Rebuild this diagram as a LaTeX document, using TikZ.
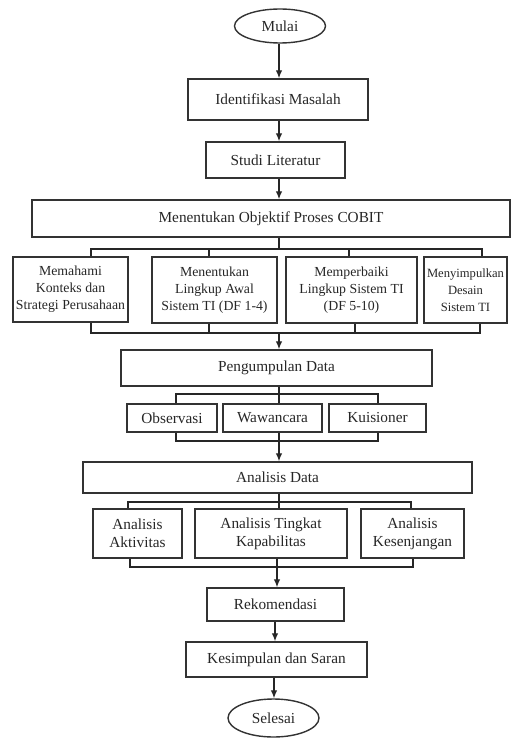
\documentclass[tikz,border=0pt]{standalone}
\usepackage{fontspec}
\setmainfont{Liberation Serif}
\usetikzlibrary{arrows.meta,shapes.geometric}

\begin{document}
\begin{tikzpicture}[x=1pt,y=-1pt,
  box/.style={draw=black!80, line width=1.4pt, rectangle, inner sep=1pt, align=center, text=black!85, font=\fontsize{15.3}{18}\selectfont},
  smallbox/.style={box, font=\fontsize{13.8}{17}\selectfont},
  oval/.style={draw=black!80, line width=1.4pt, ellipse, inner sep=0pt, text=black!85, font=\fontsize{15.3}{18}\selectfont},
  conn/.style={draw=black!85, line width=1.3pt},
  arrow/.style={conn, -{Latex[length=8pt,width=6.5pt]}}]
\useasboundingbox (0,0) rectangle (531,738);

\node[oval, minimum width=91pt, minimum height=34pt] (mulai) at (280,26) {Mulai};
\node[box, minimum width=180pt, minimum height=41pt] (ident) at (278,99.5) {Identifikasi Masalah};
\node[box, minimum width=139pt, minimum height=36pt] (studi) at (275.5,160) {Studi Literatur};
\node[box, minimum width=478pt, minimum height=37pt] (cobit) at (271,218.5) {Menentukan Objektif Proses COBIT};

\node[smallbox, minimum width=115pt, minimum height=65pt] (konteks) at (70.5,289.5) {Memahami\\Konteks dan\\Strategi Perusahaan};
\node[smallbox, minimum width=125pt, minimum height=66pt] (awal) at (214.5,290) {Menentukan\\Lingkup Awal\\Sistem TI (DF 1-4)};
\node[smallbox, minimum width=131pt, minimum height=66pt] (perbaiki) at (351.5,290) {Memperbaiki\\Lingkup Sistem TI\\(DF 5-10)};
\node[smallbox, font=\fontsize{12.6}{17}\selectfont, minimum width=83pt, minimum height=66pt] (desain) at (465.5,290) {Menyimpulkan\\Desain\\Sistem TI};

\node[box, minimum width=311pt, minimum height=36pt] (kumpul) at (276.5,368) {Pengumpulan Data};
\node[box, minimum width=90pt, minimum height=28pt] (obs) at (172,418) {Observasi};
\node[box, minimum width=99pt, minimum height=28pt] (wawan) at (272.5,418) {Wawancara};
\node[box, minimum width=97pt, minimum height=28pt] (kuis) at (377.5,418) {Kuisioner};

\node[box, minimum width=389pt, minimum height=31pt] (analisis) at (277.5,477.5) {Analisis Data};
\node[box, minimum width=89pt, minimum height=49pt] (aktivitas) at (137.5,533.5) {Analisis\\Aktivitas};
\node[box, minimum width=152pt, minimum height=49pt] (kapab) at (271,533.5) {Analisis Tingkat\\Kapabilitas};
\node[box, minimum width=103pt, minimum height=49pt] (gap) at (412.5,533.5) {Analisis\\Kesenjangan};

\node[box, minimum width=137pt, minimum height=33pt] (rekom) at (275.5,604.5) {Rekomendasi};
\node[box, minimum width=181pt, minimum height=35pt] (simpul) at (276.5,659.5) {Kesimpulan dan Saran};
\node[oval, minimum width=91pt, minimum height=38pt] (selesai) at (273.5,718) {Selesai};

\coordinate (busA1) at (91,249);
\coordinate (busA4) at (482,249);
\coordinate (busB1) at (91,333);
\coordinate (busB4) at (480,333);
\coordinate (busC1) at (176,394);
\coordinate (busC3) at (378,394);
\coordinate (busD1) at (176,441);
\coordinate (busD3) at (378,441);
\coordinate (busE1) at (128,502);
\coordinate (busE3) at (411,502);
\coordinate (busF1) at (130,567);
\coordinate (busF3) at (413,567);

\draw[arrow] ([xshift=-1pt]mulai.south) -- ([xshift=-1pt]mulai.south |- ident.north);
\draw[arrow] ([xshift=1pt]ident.south) -- ([xshift=1pt]ident.south |- studi.north);
\draw[arrow] ([xshift=3.5pt]studi.south) -- ([xshift=3.5pt]studi.south |- cobit.north);

\draw[conn] ([xshift=8pt]cobit.south) -- ([xshift=8pt]cobit.south |- busA1);
\draw[conn] (konteks.north -| busA1) -- (busA1) -- (busA4) -- (desain.north -| busA4);
\draw[conn] ([xshift=-5.5pt]awal.north) -- ([xshift=-5.5pt]awal.north |- busA1);
\draw[conn] ([xshift=-2.5pt]perbaiki.north) -- ([xshift=-2.5pt]perbaiki.north |- busA1);
\draw[conn] (konteks.south -| busB1) -- (busB1) -- (busB4) -- (desain.south -| busB4);
\draw[conn] ([xshift=-5.5pt]awal.south) -- ([xshift=-5.5pt]awal.south |- busB1);
\draw[conn] ([xshift=3.5pt]perbaiki.south) -- ([xshift=3.5pt]perbaiki.south |- busB1);
\draw[arrow] ([xshift=8pt]cobit.south |- busB1) -- ([xshift=8pt]cobit.south |- kumpul.north);

\draw[conn] ([xshift=2.5pt]kumpul.south) -- ([xshift=2.5pt]kumpul.south |- busC1);
\draw[conn] (obs.north -| busC1) -- (busC1) -- (busC3) -- (kuis.north -| busC3);
\draw[conn] ([xshift=6.5pt]wawan.north) -- ([xshift=6.5pt]wawan.north |- busC1);
\draw[conn] (obs.south -| busD1) -- (busD1) -- (busD3) -- (kuis.south -| busD3);
\draw[arrow] ([xshift=6.5pt]wawan.south) -- ([xshift=6.5pt]wawan.south |- analisis.north);

\draw[conn] ([xshift=1.5pt]analisis.south) -- ([xshift=8pt]kapab.north);
\draw[conn] (aktivitas.north -| busE1) -- (busE1) -- (busE3) -- (gap.north -| busE3);
\draw[conn] (aktivitas.south -| busF1) -- (busF1) -- (busF3) -- (gap.south -| busF3);
\draw[arrow] ([xshift=6pt]kapab.south) -- ([xshift=6pt]kapab.south |- rekom.north);

\draw[arrow] ([xshift=-0.5pt]rekom.south) -- ([xshift=-0.5pt]rekom.south |- simpul.north);
\draw[arrow] ([xshift=-2.5pt]simpul.south) -- ([xshift=-2.5pt]simpul.south |- selesai.north);
\end{tikzpicture}
\end{document}
